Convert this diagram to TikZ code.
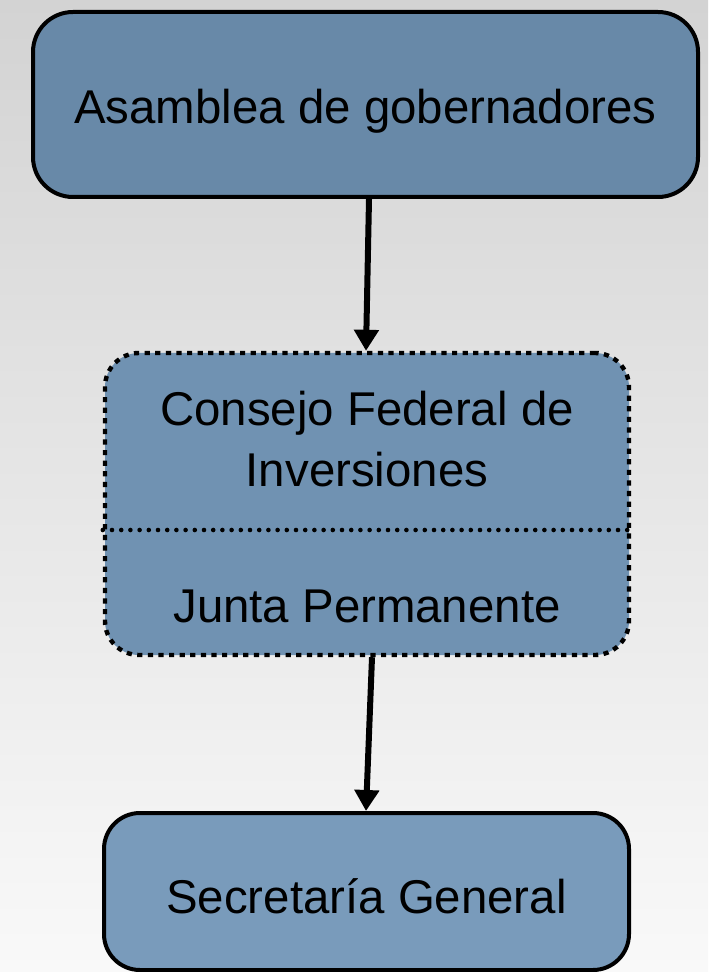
\documentclass[tikz,border=0pt]{standalone}
\usepackage{fontspec}
\setmainfont{Liberation Sans}
\usetikzlibrary{arrows.meta}
\definecolor{bg_top}{RGB}{211,211,211}
\definecolor{bg_bottom}{RGB}{249,249,249}
\definecolor{steel_dark}{RGB}{104,137,168}
\definecolor{steel_mid}{RGB}{112,146,178}
\definecolor{steel_light}{RGB}{121,155,187}

\begin{document}
\begin{tikzpicture}[x=0.5pt,y=-0.5pt,
	organ/.style={rectangle,draw=black,line width=2pt,inner sep=0pt},
	label_text/.style={font=\fontsize{23.7}{30.5}\selectfont,anchor=base,inner sep=0pt},
	link/.style={-{Triangle[width=12pt,length=10.5pt]},line width=3pt,black}]
	\shade[top color=bg_top,bottom color=bg_bottom] (0,0) rectangle (708,972);
	\useasboundingbox (0,0) rectangle (708,972);

	\node[organ,rounded corners=20pt,fill=steel_dark,minimum width=332.5pt,minimum height=92.5pt] (asamblea) at (365.5,104.5) {};
	\node[organ,rounded corners=17pt,fill=steel_mid,dash pattern=on 2.6pt off 2.7pt,line width=2.2pt,minimum width=262pt,minimum height=151pt] (consejo) at (367,504) {};
	\node[organ,rounded corners=18pt,fill=steel_light,minimum width=262.5pt,minimum height=78.5pt] (secretaria) at (366.5,891.5) {};

	\coordinate (split) at (367,530);
	\draw[black,line width=2.3pt,line cap=round,dash pattern=on 0pt off 4.6pt] (consejo.west |- split) -- (consejo.east |- split);

	\node[label_text] (asamblea_txt) at (365.5,124) {Asamblea de gobernadores};
	\node[label_text] (consejo_txt) at (367,425) {Consejo Federal de};
	\node[label_text] (inversiones_txt) at (367,486) {Inversiones};
	\node[label_text] (junta_txt) at (367,622) {Junta Permanente};
	\node[label_text] (secretaria_txt) at (366.5,913) {Secretaría General};

	\draw[link] ([xshift=1.75pt]asamblea.south) -- ([xshift=-0.5pt]consejo.north);
	\draw[link] ([xshift=2.5pt]consejo.south) -- ([xshift=-0.25pt]secretaria.north);
\end{tikzpicture}
\end{document}
